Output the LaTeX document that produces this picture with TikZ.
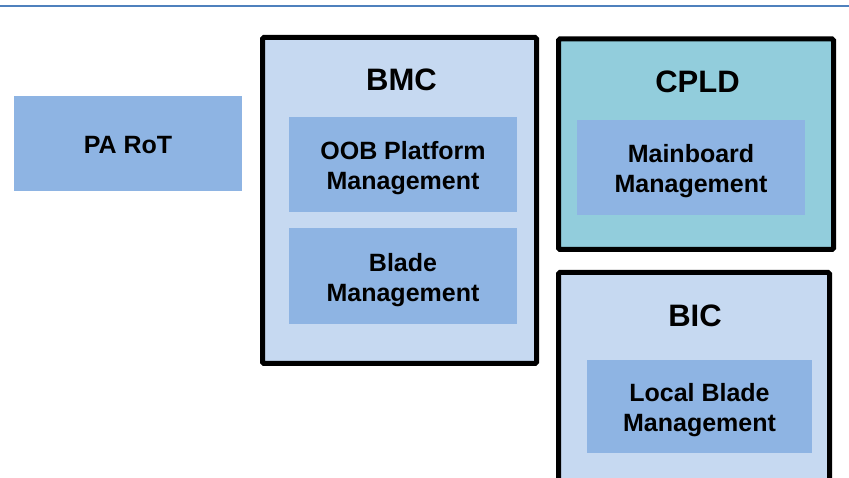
\documentclass[tikz,border=0pt]{standalone}
\usepackage{fontspec}
\setmainfont{Liberation Sans}
\usepackage{tikz}
\usetikzlibrary{positioning}

\definecolor{rulecol}{HTML}{4F81BD}
\definecolor{chipfill}{HTML}{C6D9F1}
\definecolor{cpldfill}{HTML}{92CDDC}
\definecolor{taskfill}{HTML}{8EB4E3}

\tikzset{
  chipbox/.style={draw=black, line width=5pt, rounded corners=1.5pt, inner sep=0pt},
  taskbox/.style={fill=taskfill, inner sep=0pt},
  tasktext/.style={inner sep=0pt, align=center,
    font=\bfseries\fontsize{25}{30}\selectfont},
  chiptitle/.style={inner sep=0pt, font=\bfseries\fontsize{31}{36}\selectfont}
}

\begin{document}
\begin{tikzpicture}[x=1pt,y=-1pt]
      \useasboundingbox (0,0) rectangle (849,478);
      \clip (0,0) rectangle (849,478);
      \fill[white] (0,0) rectangle (849,478);
      \draw[rulecol, line width=2pt] (0,6) -- (849,6);
      \node[chipbox, fill=chipfill, minimum width=274pt, minimum height=326pt] (bmc) at (399.5,200.5) {};
      \node[chipbox, fill=cpldfill, minimum width=275pt, minimum height=210.5pt] (cpld) at (696,144.25) {};
      \node[chipbox, fill=chipfill, minimum width=271pt, minimum height=220pt] (bic) at (694,382.5) {};
      \node[chiptitle] (bmctitle) at (401.5,79.7) {BMC};
      \node[chiptitle] (cpldtitle) at (697.5,81.7) {CPLD};
      \node[chiptitle] (bictitle) at (695,316) {BIC};
      \node[taskbox, minimum width=228pt, minimum height=95pt] (parot) at (128,143.5) {};
      \node[taskbox, minimum width=228pt, minimum height=95pt] (oob) at (403,164.5) {};
      \node[taskbox, minimum width=228pt, minimum height=95.5pt] (blade) at (403,275.8) {};
      \node[taskbox, minimum width=228pt, minimum height=95pt] (mainboard) at (691,167.5) {};
      \node[taskbox, minimum width=225pt, minimum height=92.7pt] (localblade) at (699.5,406.3) {};
      \node[tasktext] (parottext) at ([yshift=-2pt]parot.center) {PA RoT};
      \node[tasktext] (oobtext) at ([yshift=-4pt]oob.center) {OOB Platform\\Management};
      \node[tasktext] (bladetext) at ([yshift=-4pt]blade.center) {Blade\\Management};
      \node[tasktext] (mainboardtext) at ([yshift=-4pt]mainboard.center) {Mainboard\\Management};
      \node[tasktext] (localbladetext) at ([yshift=-4pt]localblade.center) {Local Blade\\Management};
\end{tikzpicture}
\end{document}
